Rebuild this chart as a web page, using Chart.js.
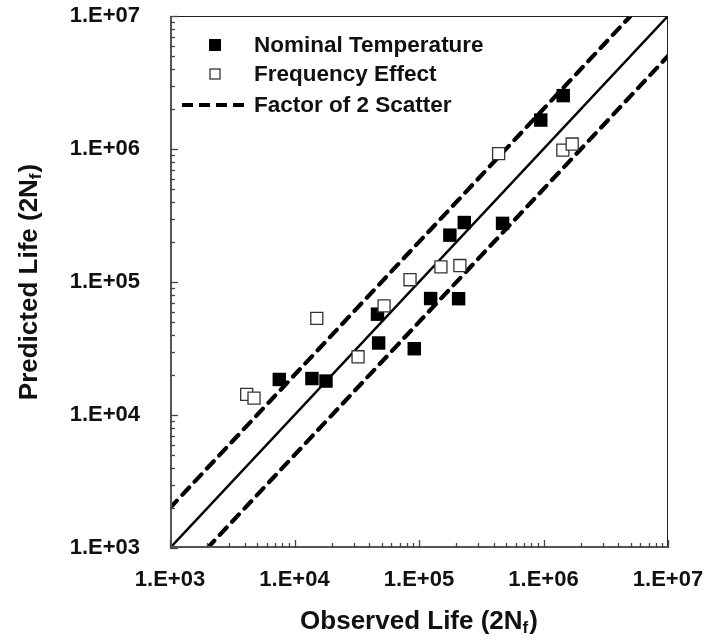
<!DOCTYPE html>
<html><head><meta charset="utf-8">
<script src="https://cdn.jsdelivr.net/npm/chart.js@4"></script>
<style>html,body{margin:0;padding:0;background:#fff}canvas{display:block}</style>
</head><body>
<canvas id="c" width="709" height="642"></canvas>
<script>
// ---- data ----
const nominalObserved  = [7550, 13800, 17900, 47400, 91600, 46400, 124000, 208000, 177000, 231000, 469000, 951000, 1440000];
const nominalPredicted = [18500, 18800, 18000, 34800, 31500, 57300, 75100, 74900, 225000, 280000, 276000, 1650000, 2520000];
const freqObserved  = [4130, 4730, 15100, 32400, 52400, 84700, 150000, 213000, 436000, 1430000, 1700000];
const freqPredicted = [14300, 13400, 53200, 27400, 66100, 104000, 130000, 133000, 922000, 982000, 1090000];
const axisRange = [1e3, 1e7];
const scatterFactor = 2;
const majorTickValues = [1e3, 1e4, 1e5, 1e6, 1e7];
const tickLabels = ['1.E+03', '1.E+04', '1.E+05', '1.E+06', '1.E+07'];
const minorMultipliers = [2, 3, 4, 5, 6, 7, 8, 9];
const legendLabels = ['Nominal Temperature', 'Frequency Effect', 'Factor of 2 Scatter'];
const xTitleParts = ['Observed Life (2N', 'f', ')'];
const yTitleParts = ['Predicted Life (2N', 'f', ')'];

const FONT = '"Liberation Sans", Arial, Helvetica, sans-serif';
const pts = (xs, ys) => xs.map((x, i) => ({x: x, y: ys[i]}));

const oneToOne = [{x: axisRange[0], y: axisRange[0]}, {x: axisRange[1], y: axisRange[1]}];
const upperLine = [{x: axisRange[0], y: axisRange[0] * scatterFactor}, {x: axisRange[1] / scatterFactor, y: axisRange[1]}];
const lowerLine = [{x: axisRange[0] * scatterFactor, y: axisRange[0]}, {x: axisRange[1], y: axisRange[1] / scatterFactor}];

function drawTitle(ctx, parts, cx, cy, rotate) {
  const big = 'bold 26px ' + FONT, small = 'bold 17px ' + FONT;
  ctx.save();
  ctx.translate(cx, cy);
  if (rotate) ctx.rotate(-Math.PI / 2);
  ctx.fillStyle = '#111';
  ctx.textBaseline = 'middle';
  ctx.font = big; const w0 = ctx.measureText(parts[0]).width; const w2 = ctx.measureText(parts[2]).width;
  ctx.font = small; const w1 = ctx.measureText(parts[1]).width;
  let x = -(w0 + w1 + w2 + 1) / 2;
  ctx.font = big; ctx.textAlign = 'left'; ctx.fillText(parts[0], x, 0); x += w0;
  ctx.font = small; ctx.fillText(parts[1], x, 6); x += w1 + 1;
  ctx.font = big; ctx.fillText(parts[2], x, 0);
  ctx.restore();
}

const decor = {
  id: 'decor',
  afterDraw(chart) {
    const ctx = chart.ctx, a = chart.chartArea;
    const xs = chart.scales.x, ys = chart.scales.y;
    ctx.save();
    // frame
    ctx.strokeStyle = '#222'; ctx.lineWidth = 1;
    ctx.beginPath();
    ctx.moveTo(a.left, a.top + 0.5); ctx.lineTo(a.right - 0.5, a.top + 0.5); ctx.lineTo(a.right - 0.5, a.bottom);
    ctx.stroke();
    ctx.strokeStyle = '#555'; ctx.lineWidth = 2;
    ctx.beginPath();
    ctx.moveTo(a.left + 1, a.top); ctx.lineTo(a.left + 1, a.bottom - 1); ctx.lineTo(a.right, a.bottom - 1);
    ctx.stroke();
    // inward ticks
    ctx.lineWidth = 1.3; ctx.strokeStyle = '#444';
    majorTickValues.forEach((base, i) => {
      const vals = [[base, 8]];
      if (i < majorTickValues.length - 1) minorMultipliers.forEach(m => vals.push([base * m, 5]));
      vals.forEach(([v, len]) => {
        const px = Math.round(xs.getPixelForValue(v)) + 0.5;
        ctx.beginPath(); ctx.moveTo(px, a.bottom); ctx.lineTo(px, a.bottom - len); ctx.stroke();
        const py = Math.round(ys.getPixelForValue(v)) + 0.5;
        ctx.beginPath(); ctx.moveTo(a.left, py); ctx.lineTo(a.left + len, py); ctx.stroke();
      });
    });
    // legend
    const lx = 215, rows = [45, 74, 105], tx = 254;
    const ds = chart.data.datasets;
    ctx.fillStyle = ds[0].backgroundColor; ctx.fillRect(lx - 6, rows[0] - 6, 12, 12);
    ctx.fillStyle = '#fff'; ctx.strokeStyle = ds[1].borderColor; ctx.lineWidth = 1.3;
    ctx.fillRect(lx - 5, rows[1] - 5, 10, 10); ctx.strokeRect(lx - 5, rows[1] - 5, 10, 10);
    ctx.strokeStyle = ds[3].borderColor; ctx.lineWidth = 4; ctx.setLineDash([11, 6]);
    ctx.beginPath(); ctx.moveTo(182, rows[2]); ctx.lineTo(249, rows[2]); ctx.stroke();
    ctx.setLineDash([]);
    ctx.fillStyle = '#111'; ctx.font = 'bold 22.5px ' + FONT; ctx.textAlign = 'left'; ctx.textBaseline = 'middle';
    legendLabels.forEach((t, i) => ctx.fillText(t, tx, rows[i] + 1));
    // axis titles
    drawTitle(ctx, xTitleParts, (a.left + a.right) / 2, 622, false);
    drawTitle(ctx, yTitleParts, 30, (a.top + a.bottom) / 2, true);
    ctx.restore();
  }
};

const labelFor = v => { const i = majorTickValues.indexOf(v); return i >= 0 ? tickLabels[i] : ''; };
const noPad = s => { s.paddingTop = 0; s.paddingBottom = 0; s.paddingLeft = 0; s.paddingRight = 0; };

new Chart(document.getElementById('c'), {
  type: 'scatter',
  data: {
    datasets: [
      {label: legendLabels[0], data: pts(nominalObserved, nominalPredicted), pointStyle: 'rect', pointRadius: 9.5,
       backgroundColor: '#000', borderColor: '#000', borderWidth: 0, order: 1},
      {label: legendLabels[1], data: pts(freqObserved, freqPredicted), pointStyle: 'rect', pointRadius: 8.5,
       backgroundColor: '#fff', borderColor: '#333', borderWidth: 1.3, order: 0},
      {label: '1:1', data: oneToOne, showLine: true, pointRadius: 0, borderColor: '#000', borderWidth: 2.5, order: 3},
      {label: legendLabels[2], data: upperLine, showLine: true, pointRadius: 0, borderColor: '#000', borderWidth: 4.2,
       borderDash: [10, 8], borderCapStyle: 'round', order: 2},
      {label: legendLabels[2] + ' (low)', data: lowerLine, showLine: true, pointRadius: 0, borderColor: '#000', borderWidth: 4.2,
       borderDash: [10, 8], borderCapStyle: 'round', order: 2}
    ]
  },
  options: {
    responsive: false, animation: false, devicePixelRatio: 1,
    layout: {padding: {top: 16, right: 41, left: 0, bottom: 0}},
    plugins: {legend: {display: false}, tooltip: {enabled: false}},
    scales: {
      x: {type: 'logarithmic', min: axisRange[0], max: axisRange[1],
          grid: {display: false}, border: {display: false},
          afterFit: s => { s.height = 94; noPad(s); },
          afterBuildTicks: s => { s.ticks = majorTickValues.map(v => ({value: v})); },
          ticks: {autoSkip: false, maxRotation: 0, padding: 11, color: '#111',
                  font: {family: FONT, size: 22, weight: 'bold'}, callback: v => labelFor(v)}},
      y: {type: 'logarithmic', min: axisRange[0], max: axisRange[1],
          grid: {display: false}, border: {display: false},
          afterFit: s => { s.width = 170; noPad(s); },
          afterBuildTicks: s => { s.ticks = majorTickValues.map(v => ({value: v})); },
          ticks: {autoSkip: false, padding: 22, color: '#111',
                  font: {family: FONT, size: 22, weight: 'bold'}, callback: v => labelFor(v)}}
    }
  },
  plugins: [decor]
});
</script>
</body></html>
